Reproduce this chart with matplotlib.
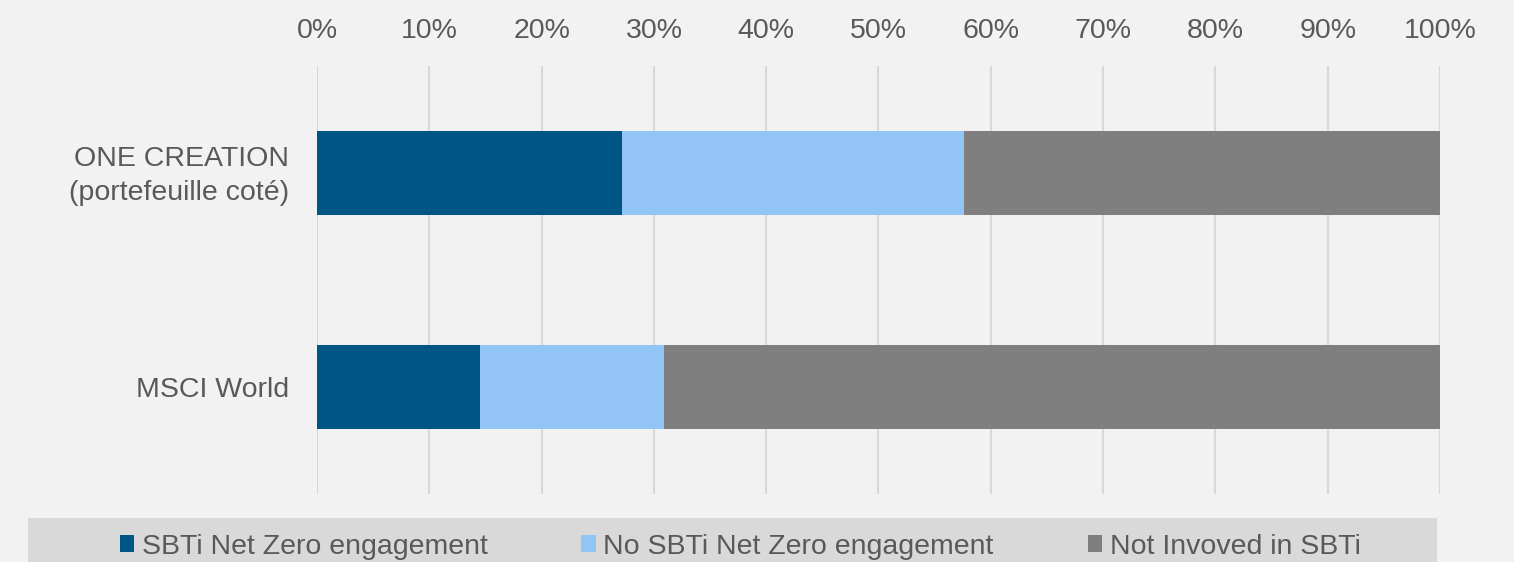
import matplotlib.pyplot as plt
import matplotlib.transforms as mtransforms
from matplotlib.patches import Patch, Rectangle
from matplotlib.ticker import PercentFormatter

plt.rcParams['font.family'] = ['Liberation Sans', 'DejaVu Sans']

# data (share of portfolio, %)
categories = ['MSCI World', 'ONE CREATION\n(portefeuille coté)']
sbti_nz = [14.5, 27.2]
no_sbti_nz = [16.4, 30.4]
not_involved = [69.1, 42.4]
series_names = ['SBTi Net Zero engagement', 'No SBTi Net Zero engagement',
                'Not Invoved in SBTi']
colors = ['#005587', '#92c5f5', '#7f7f7f']

txt = '#595959'
fs = 20.5

fig = plt.figure(figsize=(15.14, 5.62), dpi=100, facecolor='#f2f2f2')
ax = fig.add_axes([0.2094, 0.121, 0.7417, 0.7616])
ax.set_facecolor('#f2f2f2')

ypos = list(range(len(categories)))
left = [0, 0]
for vals, col in zip([sbti_nz, no_sbti_nz, not_involved], colors):
    ax.barh(ypos, vals, left=left, height=0.39, color=col, zorder=3)
    left = [a + b for a, b in zip(left, vals)]

ax.set_xlim(0, 100)
ax.set_ylim(-0.5, 1.5)
ax.set_yticks(ypos)
ax.set_yticklabels(categories, linespacing=1.4, ha='right')
ax.xaxis.set_major_locator(plt.MultipleLocator(10))
ax.xaxis.set_major_formatter(PercentFormatter(decimals=0))
ax.xaxis.tick_top()
ax.tick_params(axis='x', length=0, pad=16, labelsize=fs, labelcolor=txt)
ax.tick_params(axis='y', length=0, pad=20, labelsize=fs, labelcolor=txt)
# nudge the two-line category label up a little
up = mtransforms.ScaledTranslation(0, 3 / 72, fig.dpi_scale_trans)
for lab in ax.get_yticklabels():
    if '\n' in lab.get_text():
        lab.set_transform(lab.get_transform() + up)
ax.grid(axis='x', color='#d9d9d9', linewidth=1.5, zorder=0)
for s in ax.spines.values():
    s.set_visible(False)

# legend band
fig.patches.append(Rectangle((28 / 1514, 0), (1437 - 28) / 1514, 44 / 562,
                             transform=fig.transFigure, facecolor='#d9d9d9',
                             edgecolor='none', zorder=0))
handles = [Patch(facecolor=c, edgecolor='none') for c in colors]
fig.legend(handles, series_names, loc='center', bbox_to_anchor=(0.4888, 0.027),
           ncol=3, frameon=False, fontsize=fs, labelcolor=txt,
           handlelength=0.52, handleheight=0.52, handletextpad=0.25,
           columnspacing=3.3)

fig.savefig('out.png', dpi=100, facecolor=fig.get_facecolor())
